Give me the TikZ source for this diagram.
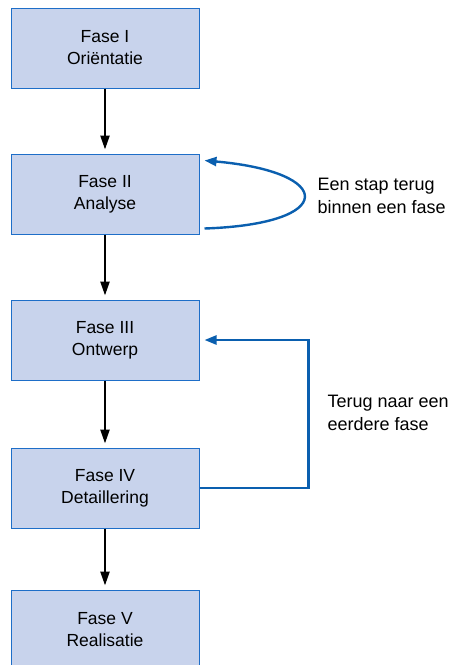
\documentclass[tikz,border=0pt]{standalone}
\usepackage{fontspec}
\setmainfont{Liberation Sans}
\usetikzlibrary{arrows.meta}
\definecolor{fasefill}{RGB}{200,211,236}
\definecolor{faseline}{RGB}{30,110,200}
\definecolor{terug}{RGB}{10,95,175}

\tikzset{
  fase/.style={draw=faseline, line width=1pt, fill=fasefill,
    minimum width=188pt, minimum height=80pt, align=center,
    font=\fontsize{17.5}{22}\selectfont},
  volg/.style={line width=2.3pt, -{Triangle[length=14pt,width=9pt]}, shorten >=4pt},
  terugpijl/.style={draw=terug, line width=2.4pt, -{Triangle[length=12pt,width=9pt]}},
  uitleg/.style={anchor=west, align=left, font=\fontsize{18}{23}\selectfont}
}

\begin{document}
\begin{tikzpicture}[x=1pt,y=1pt]
        \useasboundingbox (0,0) rectangle (450,-665);
        \clip (0,0) rectangle (450,-665);

        % de vijf fasen
        \node[fase] (ori) at (105,-48) {Fase I\\Oriëntatie};
        \node[fase] (ana) at (105,-194) {Fase II\\Analyse};
        \node[fase] (ontw) at (105,-340) {Fase III\\Ontwerp};
        \node[fase] (det) at (105,-488) {Fase IV\\Detaillering};
        \node[fase] (real) at (105,-630) {Fase V\\Realisatie};

        \draw[volg] (ori) -- (ana);
        \draw[volg] (ana) -- (ontw);
        \draw[volg] (ontw) -- (det);
        \draw[volg] (det) -- (real);

        % terug binnen een fase
        \coordinate (lus1) at ([shift={(5,6)}]ana.south east);
        \coordinate (lus2) at ([shift={(5,-7)}]ana.north east);
        \draw[terugpijl] (lus1) .. controls (338,-224) and (335,-172) .. (lus2);
        \node[uitleg] (stap) at (314,-196) {Een stap terug\\binnen een fase};

        % terug naar een eerdere fase
        \draw[terugpijl] (det.east) -- ++(109,0) |- ([xshift=5pt]ontw.east);
        \node[uitleg] (eerder) at (324,-413) {Terug naar een\\eerdere fase};
      \end{tikzpicture}
\end{document}
